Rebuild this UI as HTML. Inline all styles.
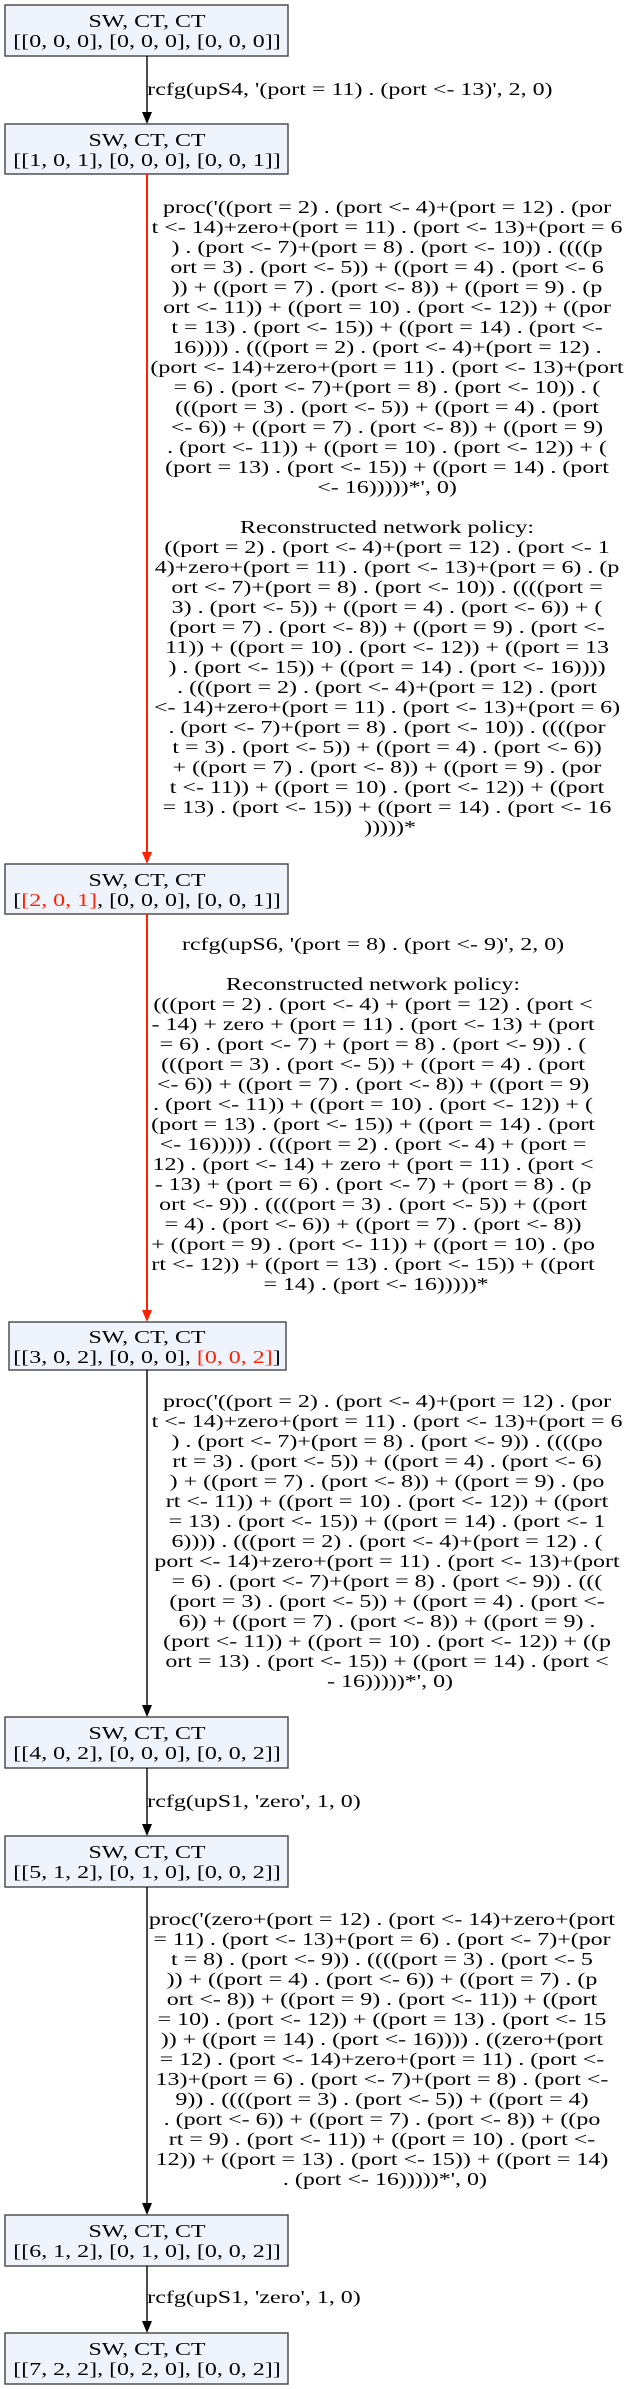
<!DOCTYPE html>
<html><head><meta charset="utf-8"><style>
html,body{margin:0;padding:0;background:#fff;}
svg{display:block;}
text{font-family:"Liberation Serif","DejaVu Serif",serif;font-size:17.5px;fill:#000;}
</style></head><body>
<svg width="638" height="2389" viewBox="0 0 638 2389" xmlns="http://www.w3.org/2000/svg">
<g fill="#eff3fb" stroke="#444" stroke-width="1.4">
<rect x="5" y="5" width="283" height="51"/>
<rect x="5" y="124" width="283" height="50"/>
<rect x="5" y="864" width="283" height="50"/>
<rect x="9" y="1322" width="277" height="48"/>
<rect x="5" y="1717" width="283" height="51"/>
<rect x="5" y="1836" width="283" height="51"/>
<rect x="5" y="2215" width="283" height="51"/>
<rect x="5" y="2333" width="283" height="51"/>
</g>
<g stroke-width="1.4">
<line x1="147" y1="56" x2="147" y2="113" stroke="#000"/>
<polygon points="142,112 152,112 147,124" fill="#000"/>
<line x1="147" y1="174" x2="147" y2="853" stroke="#ff2200" stroke-width="2"/>
<polygon points="142,852 152,852 147,864" fill="#ff2200"/>
<line x1="147" y1="914" x2="147" y2="1311" stroke="#ff2200" stroke-width="2"/>
<polygon points="142,1310 152,1310 147,1322" fill="#ff2200"/>
<line x1="147" y1="1370" x2="147" y2="1706" stroke="#000"/>
<polygon points="142,1705 152,1705 147,1717" fill="#000"/>
<line x1="147" y1="1768" x2="147" y2="1825" stroke="#000"/>
<polygon points="142,1824 152,1824 147,1836" fill="#000"/>
<line x1="147" y1="1887" x2="147" y2="2204" stroke="#000"/>
<polygon points="142,2203 152,2203 147,2215" fill="#000"/>
<line x1="147" y1="2266" x2="147" y2="2322" stroke="#000"/>
<polygon points="142,2321 152,2321 147,2333" fill="#000"/>
</g>
<g transform="scale(1.37,1)">
<g text-anchor="middle">
<text x="107.3" y="27">SW, CT, CT</text><text x="107.3" y="47">[[0, 0, 0], [0, 0, 0], [0, 0, 0]]</text>
<text x="107.3" y="146">SW, CT, CT</text><text x="107.3" y="166">[[1, 0, 1], [0, 0, 0], [0, 0, 1]]</text>
<text x="107.3" y="886">SW, CT, CT</text><text x="107.3" y="906">[<tspan fill="#ff2200">[2, 0, 1]</tspan>, [0, 0, 0], [0, 0, 1]]</text>
<text x="107.3" y="1343">SW, CT, CT</text><text x="107.3" y="1363">[[3, 0, 2], [0, 0, 0], <tspan fill="#ff2200">[0, 0, 2]</tspan>]</text>
<text x="107.3" y="1739">SW, CT, CT</text><text x="107.3" y="1759">[[4, 0, 2], [0, 0, 0], [0, 0, 2]]</text>
<text x="107.3" y="1858">SW, CT, CT</text><text x="107.3" y="1878">[[5, 1, 2], [0, 1, 0], [0, 0, 2]]</text>
<text x="107.3" y="2237">SW, CT, CT</text><text x="107.3" y="2257">[[6, 1, 2], [0, 1, 0], [0, 0, 2]]</text>
<text x="107.3" y="2355">SW, CT, CT</text><text x="107.3" y="2375">[[7, 2, 2], [0, 2, 0], [0, 0, 2]]</text>
</g>
<g text-anchor="start">
<text x="107.5" y="95">rcfg(upS4, '(port = 11) . (port &lt;- 13)', 2, 0)</text>
<text x="107.5" y="1807">rcfg(upS1, 'zero', 1, 0)</text>
<text x="107.5" y="2303">rcfg(upS1, 'zero', 1, 0)</text>
</g>
<text text-anchor="middle">
<tspan x="284.7" y="213">proc('((port = 2) . (port &lt;- 4)+(port = 12) . (por</tspan>
<tspan x="284.7" y="233">t &lt;- 14)+zero+(port = 11) . (port &lt;- 13)+(port = 6</tspan>
<tspan x="284.7" y="253">) . (port &lt;- 7)+(port = 8) . (port &lt;- 10)) . ((((p</tspan>
<tspan x="284.7" y="273">ort = 3) . (port &lt;- 5)) + ((port = 4) . (port &lt;- 6</tspan>
<tspan x="284.7" y="293">)) + ((port = 7) . (port &lt;- 8)) + ((port = 9) . (p</tspan>
<tspan x="284.7" y="313">ort &lt;- 11)) + ((port = 10) . (port &lt;- 12)) + ((por</tspan>
<tspan x="284.7" y="333">t = 13) . (port &lt;- 15)) + ((port = 14) . (port &lt;-</tspan>
<tspan x="284.7" y="353">16)))) . (((port = 2) . (port &lt;- 4)+(port = 12) .</tspan>
<tspan x="284.7" y="373">(port &lt;- 14)+zero+(port = 11) . (port &lt;- 13)+(port</tspan>
<tspan x="284.7" y="393">= 6) . (port &lt;- 7)+(port = 8) . (port &lt;- 10)) . (</tspan>
<tspan x="284.7" y="413">(((port = 3) . (port &lt;- 5)) + ((port = 4) . (port</tspan>
<tspan x="284.7" y="433">&lt;- 6)) + ((port = 7) . (port &lt;- 8)) + ((port = 9)</tspan>
<tspan x="284.7" y="453">. (port &lt;- 11)) + ((port = 10) . (port &lt;- 12)) + (</tspan>
<tspan x="284.7" y="473">(port = 13) . (port &lt;- 15)) + ((port = 14) . (port</tspan>
<tspan x="284.7" y="493">&lt;- 16)))))*', 0)</tspan>
<tspan x="284.7" y="533">Reconstructed network policy:</tspan>
<tspan x="284.7" y="553">((port = 2) . (port &lt;- 4)+(port = 12) . (port &lt;- 1</tspan>
<tspan x="284.7" y="573">4)+zero+(port = 11) . (port &lt;- 13)+(port = 6) . (p</tspan>
<tspan x="284.7" y="593">ort &lt;- 7)+(port = 8) . (port &lt;- 10)) . ((((port =</tspan>
<tspan x="284.7" y="613">3) . (port &lt;- 5)) + ((port = 4) . (port &lt;- 6)) + (</tspan>
<tspan x="284.7" y="633">(port = 7) . (port &lt;- 8)) + ((port = 9) . (port &lt;-</tspan>
<tspan x="284.7" y="653">11)) + ((port = 10) . (port &lt;- 12)) + ((port = 13</tspan>
<tspan x="284.7" y="673">) . (port &lt;- 15)) + ((port = 14) . (port &lt;- 16))))</tspan>
<tspan x="284.7" y="693">. (((port = 2) . (port &lt;- 4)+(port = 12) . (port</tspan>
<tspan x="284.7" y="713">&lt;- 14)+zero+(port = 11) . (port &lt;- 13)+(port = 6)</tspan>
<tspan x="284.7" y="733">. (port &lt;- 7)+(port = 8) . (port &lt;- 10)) . ((((por</tspan>
<tspan x="284.7" y="753">t = 3) . (port &lt;- 5)) + ((port = 4) . (port &lt;- 6))</tspan>
<tspan x="284.7" y="773">+ ((port = 7) . (port &lt;- 8)) + ((port = 9) . (por</tspan>
<tspan x="284.7" y="793">t &lt;- 11)) + ((port = 10) . (port &lt;- 12)) + ((port</tspan>
<tspan x="284.7" y="813">= 13) . (port &lt;- 15)) + ((port = 14) . (port &lt;- 16</tspan>
<tspan x="284.7" y="833">)))))*</tspan>
</text>
<text text-anchor="middle">
<tspan x="274.5" y="950">rcfg(upS6, '(port = 8) . (port &lt;- 9)', 2, 0)</tspan>
<tspan x="274.5" y="990">Reconstructed network policy:</tspan>
<tspan x="274.5" y="1010">(((port = 2) . (port &lt;- 4) + (port = 12) . (port &lt;</tspan>
<tspan x="274.5" y="1030">- 14) + zero + (port = 11) . (port &lt;- 13) + (port</tspan>
<tspan x="274.5" y="1050">= 6) . (port &lt;- 7) + (port = 8) . (port &lt;- 9)) . (</tspan>
<tspan x="274.5" y="1070">(((port = 3) . (port &lt;- 5)) + ((port = 4) . (port</tspan>
<tspan x="274.5" y="1090">&lt;- 6)) + ((port = 7) . (port &lt;- 8)) + ((port = 9)</tspan>
<tspan x="274.5" y="1110">. (port &lt;- 11)) + ((port = 10) . (port &lt;- 12)) + (</tspan>
<tspan x="274.5" y="1130">(port = 13) . (port &lt;- 15)) + ((port = 14) . (port</tspan>
<tspan x="274.5" y="1150">&lt;- 16))))) . (((port = 2) . (port &lt;- 4) + (port =</tspan>
<tspan x="274.5" y="1170">12) . (port &lt;- 14) + zero + (port = 11) . (port &lt;</tspan>
<tspan x="274.5" y="1190">- 13) + (port = 6) . (port &lt;- 7) + (port = 8) . (p</tspan>
<tspan x="274.5" y="1210">ort &lt;- 9)) . ((((port = 3) . (port &lt;- 5)) + ((port</tspan>
<tspan x="274.5" y="1230">= 4) . (port &lt;- 6)) + ((port = 7) . (port &lt;- 8))</tspan>
<tspan x="274.5" y="1250">+ ((port = 9) . (port &lt;- 11)) + ((port = 10) . (po</tspan>
<tspan x="274.5" y="1270">rt &lt;- 12)) + ((port = 13) . (port &lt;- 15)) + ((port</tspan>
<tspan x="274.5" y="1290">= 14) . (port &lt;- 16)))))*</tspan>
</text>
<text text-anchor="middle">
<tspan x="284.7" y="1407">proc('((port = 2) . (port &lt;- 4)+(port = 12) . (por</tspan>
<tspan x="284.7" y="1427">t &lt;- 14)+zero+(port = 11) . (port &lt;- 13)+(port = 6</tspan>
<tspan x="284.7" y="1447">) . (port &lt;- 7)+(port = 8) . (port &lt;- 9)) . ((((po</tspan>
<tspan x="284.7" y="1467">rt = 3) . (port &lt;- 5)) + ((port = 4) . (port &lt;- 6)</tspan>
<tspan x="284.7" y="1487">) + ((port = 7) . (port &lt;- 8)) + ((port = 9) . (po</tspan>
<tspan x="284.7" y="1507">rt &lt;- 11)) + ((port = 10) . (port &lt;- 12)) + ((port</tspan>
<tspan x="284.7" y="1527">= 13) . (port &lt;- 15)) + ((port = 14) . (port &lt;- 1</tspan>
<tspan x="284.7" y="1547">6)))) . (((port = 2) . (port &lt;- 4)+(port = 12) . (</tspan>
<tspan x="284.7" y="1567">port &lt;- 14)+zero+(port = 11) . (port &lt;- 13)+(port</tspan>
<tspan x="284.7" y="1587">= 6) . (port &lt;- 7)+(port = 8) . (port &lt;- 9)) . (((</tspan>
<tspan x="284.7" y="1607">(port = 3) . (port &lt;- 5)) + ((port = 4) . (port &lt;-</tspan>
<tspan x="284.7" y="1627">6)) + ((port = 7) . (port &lt;- 8)) + ((port = 9) .</tspan>
<tspan x="284.7" y="1647">(port &lt;- 11)) + ((port = 10) . (port &lt;- 12)) + ((p</tspan>
<tspan x="284.7" y="1667">ort = 13) . (port &lt;- 15)) + ((port = 14) . (port &lt;</tspan>
<tspan x="284.7" y="1687">- 16)))))*', 0)</tspan>
</text>
<text text-anchor="middle">
<tspan x="281" y="1925">proc('(zero+(port = 12) . (port &lt;- 14)+zero+(port</tspan>
<tspan x="281" y="1945">= 11) . (port &lt;- 13)+(port = 6) . (port &lt;- 7)+(por</tspan>
<tspan x="281" y="1965">t = 8) . (port &lt;- 9)) . ((((port = 3) . (port &lt;- 5</tspan>
<tspan x="281" y="1985">)) + ((port = 4) . (port &lt;- 6)) + ((port = 7) . (p</tspan>
<tspan x="281" y="2005">ort &lt;- 8)) + ((port = 9) . (port &lt;- 11)) + ((port</tspan>
<tspan x="281" y="2025">= 10) . (port &lt;- 12)) + ((port = 13) . (port &lt;- 15</tspan>
<tspan x="281" y="2045">)) + ((port = 14) . (port &lt;- 16)))) . ((zero+(port</tspan>
<tspan x="281" y="2065">= 12) . (port &lt;- 14)+zero+(port = 11) . (port &lt;-</tspan>
<tspan x="281" y="2085">13)+(port = 6) . (port &lt;- 7)+(port = 8) . (port &lt;-</tspan>
<tspan x="281" y="2105">9)) . ((((port = 3) . (port &lt;- 5)) + ((port = 4)</tspan>
<tspan x="281" y="2125">. (port &lt;- 6)) + ((port = 7) . (port &lt;- 8)) + ((po</tspan>
<tspan x="281" y="2145">rt = 9) . (port &lt;- 11)) + ((port = 10) . (port &lt;-</tspan>
<tspan x="281" y="2165">12)) + ((port = 13) . (port &lt;- 15)) + ((port = 14)</tspan>
<tspan x="281" y="2185">. (port &lt;- 16)))))*', 0)</tspan>
</text>
</g>
</svg>
</body></html>
